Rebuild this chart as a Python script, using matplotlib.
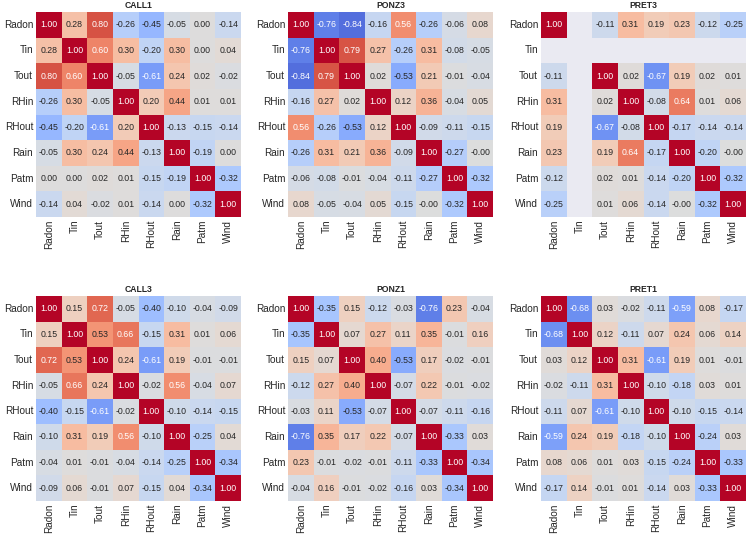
import matplotlib
matplotlib.use("Agg")
import matplotlib.pyplot as plt
import numpy as np
import seaborn as sns

sns.set_theme(style="darkgrid")
plt.rcParams["font.family"] = ["Liberation Sans", "DejaVu Sans"]

variables = ["Radon", "Tin", "Tout", "RHin", "RHout", "Rain", "Patm", "Wind"]

call1 = [
    [1.00, 0.28, 0.80, -0.26, -0.45, -0.05, 0.00, -0.14],
    [0.28, 1.00, 0.60, 0.30, -0.20, 0.30, 0.00, 0.04],
    [0.80, 0.60, 1.00, -0.05, -0.61, 0.24, 0.02, -0.02],
    [-0.26, 0.30, -0.05, 1.00, 0.20, 0.44, 0.01, 0.01],
    [-0.45, -0.20, -0.61, 0.20, 1.00, -0.13, -0.15, -0.14],
    [-0.05, 0.30, 0.24, 0.44, -0.13, 1.00, -0.19, 0.00],
    [0.00, 0.00, 0.02, 0.01, -0.15, -0.19, 1.00, -0.32],
    [-0.14, 0.04, -0.02, 0.01, -0.14, 0.00, -0.32, 1.00],
]

ponz3 = [
    [1.00, -0.76, -0.84, -0.16, 0.56, -0.26, -0.06, 0.08],
    [-0.76, 1.00, 0.79, 0.27, -0.26, 0.31, -0.08, -0.05],
    [-0.84, 0.79, 1.00, 0.02, -0.53, 0.21, -0.01, -0.04],
    [-0.16, 0.27, 0.02, 1.00, 0.12, 0.36, -0.04, 0.05],
    [0.56, -0.26, -0.53, 0.12, 1.00, -0.09, -0.11, -0.15],
    [-0.26, 0.31, 0.21, 0.36, -0.09, 1.00, -0.27, -0.001],
    [-0.06, -0.08, -0.01, -0.04, -0.11, -0.27, 1.00, -0.32],
    [0.08, -0.05, -0.04, 0.05, -0.15, -0.001, -0.32, 1.00],
]

nan = np.nan
pret3 = [
    [1.00, nan, -0.11, 0.31, 0.19, 0.23, -0.12, -0.25],
    [nan, nan, nan, nan, nan, nan, nan, nan],
    [-0.11, nan, 1.00, 0.02, -0.67, 0.19, 0.02, 0.01],
    [0.31, nan, 0.02, 1.00, -0.08, 0.64, 0.01, 0.06],
    [0.19, nan, -0.67, -0.08, 1.00, -0.17, -0.14, -0.14],
    [0.23, nan, 0.19, 0.64, -0.17, 1.00, -0.20, -0.001],
    [-0.12, nan, 0.02, 0.01, -0.14, -0.20, 1.00, -0.32],
    [-0.25, nan, 0.01, 0.06, -0.14, -0.001, -0.32, 1.00],
]

call3 = [
    [1.00, 0.15, 0.72, -0.05, -0.40, -0.10, -0.04, -0.09],
    [0.15, 1.00, 0.53, 0.66, -0.15, 0.31, 0.01, 0.06],
    [0.72, 0.53, 1.00, 0.24, -0.61, 0.19, -0.01, -0.01],
    [-0.05, 0.66, 0.24, 1.00, -0.02, 0.56, -0.04, 0.07],
    [-0.40, -0.15, -0.61, -0.02, 1.00, -0.10, -0.14, -0.15],
    [-0.10, 0.31, 0.19, 0.56, -0.10, 1.00, -0.25, 0.04],
    [-0.04, 0.01, -0.01, -0.04, -0.14, -0.25, 1.00, -0.34],
    [-0.09, 0.06, -0.01, 0.07, -0.15, 0.04, -0.34, 1.00],
]

ponz1 = [
    [1.00, -0.35, 0.15, -0.12, -0.03, -0.76, 0.23, -0.04],
    [-0.35, 1.00, 0.07, 0.27, 0.11, 0.35, -0.01, 0.16],
    [0.15, 0.07, 1.00, 0.40, -0.53, 0.17, -0.02, -0.01],
    [-0.12, 0.27, 0.40, 1.00, -0.07, 0.22, -0.01, -0.02],
    [-0.03, 0.11, -0.53, -0.07, 1.00, -0.07, -0.11, -0.16],
    [-0.76, 0.35, 0.17, 0.22, -0.07, 1.00, -0.33, 0.03],
    [0.23, -0.01, -0.02, -0.01, -0.11, -0.33, 1.00, -0.34],
    [-0.04, 0.16, -0.01, -0.02, -0.16, 0.03, -0.34, 1.00],
]

pret1 = [
    [1.00, -0.68, 0.03, -0.02, -0.11, -0.59, 0.08, -0.17],
    [-0.68, 1.00, 0.12, -0.11, 0.07, 0.24, 0.06, 0.14],
    [0.03, 0.12, 1.00, 0.31, -0.61, 0.19, 0.01, -0.01],
    [-0.02, -0.11, 0.31, 1.00, -0.10, -0.18, 0.03, 0.01],
    [-0.11, 0.07, -0.61, -0.10, 1.00, -0.10, -0.15, -0.14],
    [-0.59, 0.24, 0.19, -0.18, -0.10, 1.00, -0.24, 0.03],
    [0.08, 0.06, 0.01, 0.03, -0.15, -0.24, 1.00, -0.33],
    [-0.17, 0.14, -0.01, 0.01, -0.14, 0.03, -0.33, 1.00],
]

stations = ["CALL1", "PONZ3", "PRET3", "CALL3", "PONZ1", "PRET1"]
matrices = [call1, ponz3, pret3, call3, ponz1, pret1]

W, H = 746, 539
fig = plt.figure(figsize=(W / 100, H / 100), dpi=100)

lefts = [36, 288, 541]
bottoms = [217, 501]  # pixel y of heatmap bottom edge
size = 205

for i, (name, mat) in enumerate(zip(stations, matrices)):
    r, c = divmod(i, 3)
    ax = fig.add_axes([lefts[c] / W, 1 - bottoms[r] / H, size / W, size / H])
    sns.heatmap(
        np.array(mat, dtype=float),
        ax=ax,
        cmap="coolwarm",
        vmin=-1,
        vmax=1,
        annot=True,
        fmt=".2f",
        annot_kws={"fontsize": 6.3},
        cbar=False,
        xticklabels=variables,
        yticklabels=variables,
    )
    ax.grid(False)
    ax.set_title(name, fontsize=6.2, fontweight="bold", pad=3)
    ax.tick_params(axis="both", labelsize=7.2, length=0, pad=2)
    plt.setp(ax.get_xticklabels(), rotation=90)
    plt.setp(ax.get_yticklabels(), rotation=0)

fig.savefig("out.png", dpi=100)
